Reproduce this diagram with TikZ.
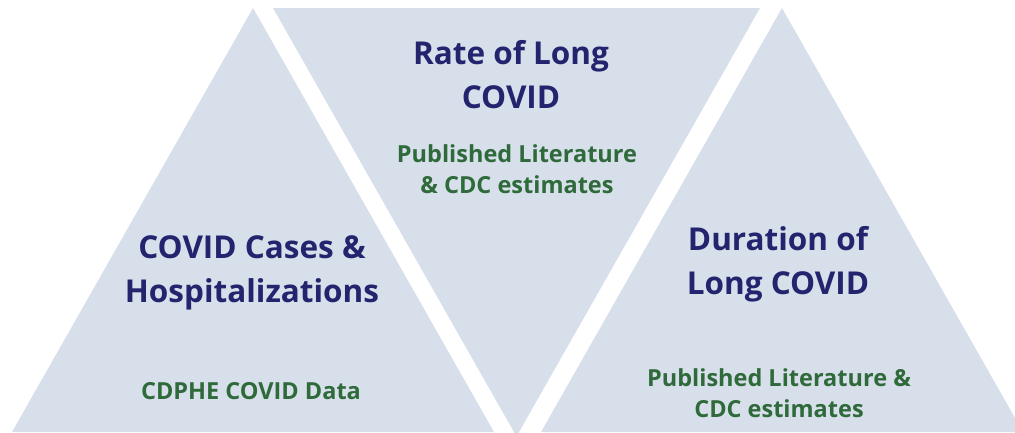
\documentclass[tikz,border=0pt]{standalone}
\usepackage{fontspec}
\setmainfont{Open Sans}
\definecolor{tri}{HTML}{D7DFEA}
\definecolor{navy}{HTML}{23236E}
\definecolor{grn}{HTML}{2F6A3B}
\begin{document}
\begin{tikzpicture}[x=1pt,y=-1pt,
  tshape/.style={fill=tri,draw=none},
  title/.style={text=navy,font=\bfseries\fontsize{31.5}{44}\selectfont,align=center,inner sep=0pt},
  src/.style={text=grn,font=\bfseries\fontsize{23.5}{31}\selectfont,align=center,inner sep=0pt}]
\useasboundingbox (0,0) rectangle (1015,432);
\clip (0,0) rectangle (1015,432);
\fill[tshape] (253,8) -- (12,432) -- (494,432) -- cycle;
\fill[tshape] (273,8) -- (760,8) -- (516.5,436.4) -- cycle;
\fill[tshape] (782,8) -- (541,432) -- (1023,432) -- cycle;
\node[title] (rate) at (511,75) {Rate of Long\\COVID};
\node[src] (rates) at (517,169) {Published Literature\\\& CDC estimates};
\node[title] (cases) at (252,273) {COVID Cases \&\\Hospitalizations};
\node[src] (casess) at (251,391) {CDPHE COVID Data};
\node[title] (dur) at (778,264) {Duration of\\Long COVID};
\node[src] (durs) at (779,393) {Published Literature \&\\CDC estimates};
\end{tikzpicture}
\end{document}
